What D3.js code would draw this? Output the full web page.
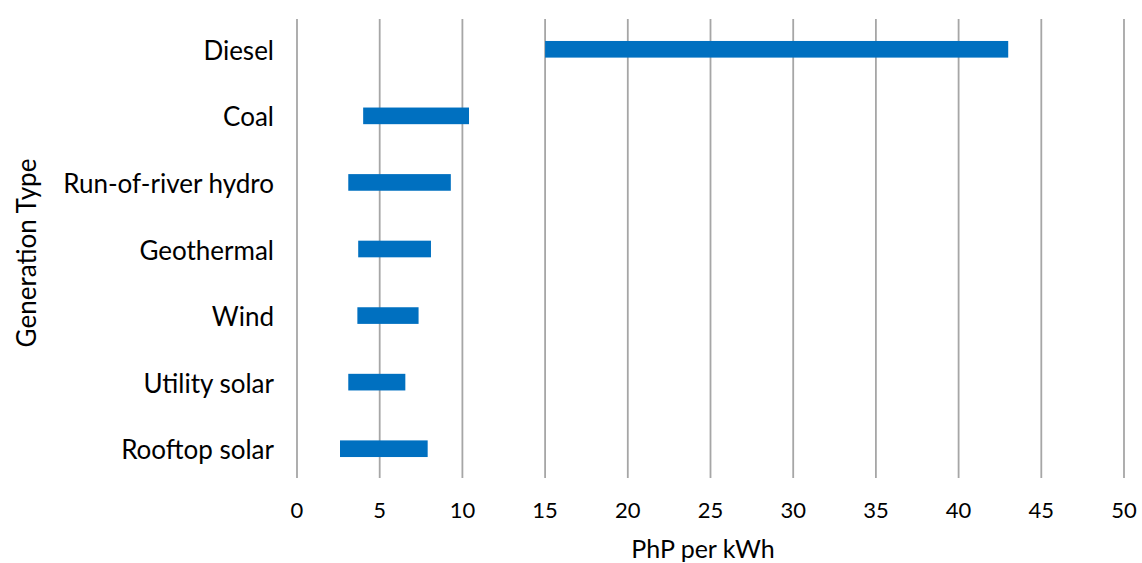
<!DOCTYPE html>
<html>
<head>
<meta charset="utf-8">
<script src="https://cdn.jsdelivr.net/npm/d3@7"></script>
<style>
  body { margin: 0; background: #fff; }
  svg { display: block; }
  text { font-family: Lato, "Open Sans", sans-serif; fill: #000; }
</style>
</head>
<body>
<svg id="chart" width="1142" height="563"></svg>
<script>
const categories = ["Diesel", "Coal", "Run-of-river hydro", "Geothermal", "Wind", "Utility solar", "Rooftop solar"];
const lowValues  = [15.0, 4.0, 3.1, 3.7, 3.65, 3.1, 2.6];
const highValues = [43.0, 10.4, 9.3, 8.1, 7.35, 6.55, 7.9];
const xTicks = [0, 5, 10, 15, 20, 25, 30, 35, 40, 45, 50];
const xTitle = "PhP per kWh";
const yTitle = "Generation Type";

const data = categories.map((c, i) => ({ cat: c, lo: lowValues[i], hi: highValues[i] }));

const svg = d3.select("#chart");
const x = d3.scaleLinear().domain([0, 50]).range([297, 1124]);
const y = d3.scaleBand().domain(categories).range([16, 482]).paddingInner(0.75).paddingOuter(0.375);

// gridlines
svg.append("g").selectAll("line").data(xTicks).join("line")
  .attr("x1", d => x(d)).attr("x2", d => x(d))
  .attr("y1", 19).attr("y2", 478)
  .attr("stroke", "#a6a6a6").attr("stroke-width", 1.8);

// bars
svg.append("g").selectAll("rect").data(data).join("rect")
  .attr("x", d => x(d.lo))
  .attr("width", d => x(d.hi) - x(d.lo))
  .attr("y", d => y(d.cat))
  .attr("height", y.bandwidth())
  .attr("fill", "#0070c0");

// category labels
svg.append("g").selectAll("text").data(categories).join("text")
  .attr("x", 274)
  .attr("y", d => y(d) + y.bandwidth() / 2 + 1.5)
  .attr("dy", "0.35em")
  .attr("text-anchor", "end")
  .attr("font-size", 26)
  .text(d => d);

// x tick labels
svg.append("g").selectAll("text").data(xTicks).join("text")
  .attr("x", d => x(d))
  .attr("y", 518)
  .attr("text-anchor", "middle")
  .attr("font-size", 22)
  .text(d => d);

// axis titles
svg.append("text")
  .attr("x", 703).attr("y", 558)
  .attr("text-anchor", "middle")
  .attr("font-size", 25)
  .text(xTitle);

svg.append("text")
  .attr("transform", "translate(36,253) rotate(-90)")
  .attr("text-anchor", "middle")
  .attr("font-size", 26)
  .text(yTitle);
</script>
</body>
</html>
